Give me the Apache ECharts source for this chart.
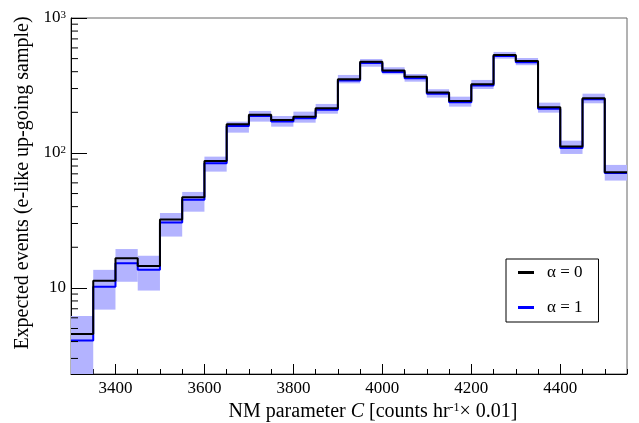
<!DOCTYPE html>
<html><head><meta charset="utf-8">
<script src="https://cdn.jsdelivr.net/npm/echarts@6/dist/echarts.min.js"></script>
<style>html,body{margin:0;padding:0;background:#fff}#c{width:639px;height:423px}</style>
</head><body><div id="c"></div>
<script>
// Bin lower edges of NM parameter C
const binStart = [3300,3350,3400,3450,3500,3550,3600,3650,3700,3750,3800,3850,3900,3950,4000,4050,4100,4150,4200,4250,4300,4350,4400,4450,4500];
const binWidth = 50;
// Expected events, alpha = 0 (black)
const alpha0 = [4.56,11.3,16.6,14.5,32.1,47.0,87.3,163,192,175.6,185.7,214.3,351.6,474.3,407.6,367.3,279.9,242.7,322.8,532.4,479.8,218,111.4,254.2,71.9];
// Expected events, alpha = 1 (blue)
const alpha1 = [4.07,10.2,15.2,13.6,30.5,44.9,83.9,158.5,188,171,181,209,344,464,398,358,274,237,316,522,470,213,109,250,71];
// Uncertainty band (light blue)
const bandLo = [2.0,6.9,11.1,9.55,24.0,36.7,72.7,141.4,170.6,156.6,167.6,195.4,328,435.6,382.8,337.3,257.2,220.4,297.9,499.7,446.9,198.9,98.3,233.3,62.4];
const bandHi = [6.2,13.6,19.4,17.3,35.9,51.4,93.9,170.6,204.7,187.9,202.3,230.7,378.4,496.5,431.5,384.6,296.5,261.2,347.5,560.3,505.5,235.9,123.3,274.9,81.5];
const yMin = 2.3, yMax = 1000;
const yMinorTicks = [3,4,5,6,7,8,9,20,30,40,50,60,70,80,90,200,300,400,500,600,700,800,900];
const seriesNames = ['α = 0','α = 1'];
const FONT = 'Liberation Serif';

const xMin = binStart[0];
const xMax = binStart[binStart.length-1] + binWidth;

function stepData(vals){
  const d = binStart.map((x,i)=>[x, vals[i]]);
  d.push([xMax, vals[vals.length-1]]);
  return d;
}

const chart = echarts.init(document.getElementById('c'), null, {renderer:'canvas'});
chart.setOption({
  animation:false,
  backgroundColor:'#fff',
  grid:{left:71, right:12, top:18, bottom:49, show:true, borderColor:'#666', borderWidth:1, containLabel:false, outerBoundsMode:'none'},
  legend:{
    data:seriesNames, orient:'vertical', left:506, top:259,
    padding:[5,16,6,12], itemGap:18, itemWidth:16, itemHeight:3, icon:'rect',
    borderColor:'#000', borderWidth:1, backgroundColor:'#fff',
    textStyle:{fontFamily:FONT, fontSize:17, color:'#000', padding:[0,0,0,8]}
  },
  xAxis:[
    {type:'value', min:xMin, max:xMax, interval:binWidth,
     axisLine:{show:true, lineStyle:{color:'#000', width:1}},
     axisTick:{inside:true, length:5, lineStyle:{color:'#000'}},
     axisLabel:{show:false}, splitLine:{show:false}},
    {type:'value', min:xMin, max:xMax, splitNumber:6, position:'bottom',
     axisLine:{show:false},
     axisTick:{inside:true, length:10, lineStyle:{color:'#000'}},
     axisLabel:{margin:6, showMinLabel:false, showMaxLabel:false, fontFamily:FONT, fontSize:17, color:'#000', formatter:(v)=>String(v)},
     splitLine:{show:false},
     name:'NM parameter {i|C} [counts hr{sup|-1}× 0.01]', nameLocation:'middle', nameGap:24,
     nameTextStyle:{fontFamily:FONT, fontSize:20, color:'#000', padding:[0,0,0,48],
       rich:{i:{fontFamily:FONT, fontSize:20, fontStyle:'italic', color:'#000'}, sup:{fontFamily:FONT, fontSize:12, verticalAlign:'top', color:'#000'}}}}
  ],
  yAxis:{
    type:'log', logBase:10, min:yMin, max:yMax,
    axisLine:{show:true, lineStyle:{color:'#000', width:1}},
    axisTick:{inside:true, length:16, lineStyle:{color:'#000'}},
    minorTick:{show:false}, splitLine:{show:false},
    axisLabel:{margin:5, showMinLabel:false, fontFamily:FONT, fontSize:17, color:'#000',
      formatter:(v)=>{const e=Math.round(Math.log10(v)); return e===1?'10':'10{sup|'+e+'}';},
      rich:{sup:{fontFamily:FONT, fontSize:11, verticalAlign:'top', color:'#000'}}},
    name:'Expected events (e-like up-going sample)', nameLocation:'middle', nameGap:36,
    nameTextStyle:{fontFamily:FONT, fontSize:20, color:'#000', padding:[0,0,0,26]}
  },
  series:[
    {type:'custom', name:'band', xAxisIndex:0, yAxisIndex:0, silent:true, clip:true, z:1,
     data: binStart.map((x,i)=>[x, x+binWidth, bandLo[i], bandHi[i]]),
     encode:{x:[0,1], y:[2,3]},
     renderItem:(params, api)=>{
       const p0 = api.coord([api.value(0), api.value(3)]);
       const p1 = api.coord([api.value(1), api.value(2)]);
       return {type:'rect', shape:{x:p0[0], y:p0[1], width:p1[0]-p0[0], height:p1[1]-p0[1]}, style:{fill:'#b3b3ff'}};
     }},
    {type:'custom', name:'minorTicks', xAxisIndex:0, yAxisIndex:0, silent:true, clip:false, z:5,
     data: yMinorTicks.map(v=>[xMin, v]),
     encode:{x:0, y:1},
     renderItem:(params, api)=>{
       const p = api.coord([api.value(0), api.value(1)]);
       return {type:'line', shape:{x1:p[0], y1:p[1], x2:p[0]+7, y2:p[1]}, style:{stroke:'#000', lineWidth:1}};
     }},
    {type:'line', name:seriesNames[1], xAxisIndex:0, yAxisIndex:0, step:'end', showSymbol:false, symbol:'none', z:3,
     color:'#0000ff', itemStyle:{color:'#0000ff'}, lineStyle:{color:'#0000ff', width:2}, data: stepData(alpha1)},
    {type:'line', name:seriesNames[0], xAxisIndex:0, yAxisIndex:0, step:'end', showSymbol:false, symbol:'none', z:4,
     color:'#000', itemStyle:{color:'#000'}, lineStyle:{color:'#000', width:2}, data: stepData(alpha0)}
  ]
});
</script></body></html>
